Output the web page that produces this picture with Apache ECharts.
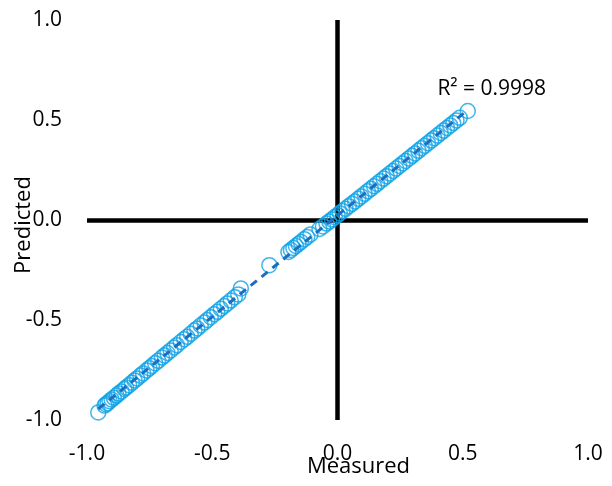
<!DOCTYPE html>
<html>
<head>
<meta charset="utf-8">
<script src="https://cdn.jsdelivr.net/npm/echarts@6/dist/echarts.min.js"></script>
<style>
html,body{margin:0;padding:0;background:#fff;}
#chart{width:612px;height:486px;}
</style>
</head>
<body>
<div id="chart"></div>
<script>
const measured = [
  -0.955, -0.93, -0.924, -0.917, -0.91, -0.902, -0.893, -0.882, -0.874, -0.862,
  -0.851, -0.844, -0.832, -0.821, -0.81, -0.8, -0.787, -0.776, -0.762, -0.751,
  -0.741, -0.728, -0.716, -0.701, -0.69, -0.679, -0.666, -0.652, -0.641, -0.626,
  -0.612, -0.6, -0.586, -0.571, -0.56, -0.546, -0.531, -0.52, -0.506, -0.492,
  -0.48, -0.466, -0.452, -0.44, -0.426, -0.41, -0.396, -0.386,
  -0.272,
  -0.196, -0.186, -0.176, -0.166, -0.156, -0.146, -0.132, -0.121, -0.108,
  -0.072, -0.058, -0.044, -0.033, -0.022, -0.011, 0.0, 0.009, 0.02,
  0.032, 0.045, 0.058, 0.07, 0.083, 0.095, 0.108, 0.121, 0.133, 0.146,
  0.158, 0.171, 0.184, 0.196, 0.209, 0.222, 0.234, 0.247, 0.26, 0.272,
  0.285, 0.298, 0.31, 0.323, 0.336, 0.348, 0.361, 0.374, 0.386, 0.399,
  0.412, 0.424, 0.437, 0.45, 0.462, 0.475, 0.488, 0.52
];
const predicted = [
  -0.962, -0.928, -0.921, -0.916, -0.906, -0.898, -0.889, -0.878, -0.868, -0.857,
  -0.845, -0.838, -0.826, -0.814, -0.802, -0.792, -0.778, -0.767, -0.752, -0.741,
  -0.73, -0.716, -0.704, -0.688, -0.677, -0.665, -0.652, -0.637, -0.626, -0.61,
  -0.596, -0.584, -0.569, -0.553, -0.542, -0.527, -0.512, -0.5, -0.486, -0.471,
  -0.459, -0.444, -0.43, -0.417, -0.403, -0.386, -0.372, -0.342,
  -0.226,
  -0.16, -0.15, -0.14, -0.13, -0.12, -0.11, -0.096, -0.085, -0.072,
  -0.045, -0.032, -0.018, -0.008, 0.003, 0.014, 0.024, 0.034, 0.045,
  0.056, 0.069, 0.081, 0.093, 0.106, 0.118, 0.131, 0.144, 0.156, 0.169,
  0.181, 0.194, 0.207, 0.219, 0.232, 0.245, 0.257, 0.27, 0.283, 0.295,
  0.308, 0.321, 0.333, 0.346, 0.359, 0.371, 0.384, 0.397, 0.409, 0.422,
  0.435, 0.447, 0.46, 0.473, 0.485, 0.498, 0.511, 0.545
];
const xTicks = [-1.0, -0.5, 0.0, 0.5, 1.0];
const yTicks = [-1.0, -0.5, 0.0, 0.5, 1.0];
const r2Label = 'R² = 0.9998';
const xTitle = 'Measured';
const yTitle = 'Predicted';

// least-squares fit of the measured/predicted pairs (trendline)
const n = measured.length;
let sx = 0, sy = 0, sxx = 0, sxy = 0;
for (let i = 0; i < n; i++) { sx += measured[i]; sy += predicted[i]; sxx += measured[i]*measured[i]; sxy += measured[i]*predicted[i]; }
const slope = (n*sxy - sx*sy) / (n*sxx - sx*sx);
const icept = (sy - slope*sx) / n;
const xmin = Math.min(...measured), xmax = Math.max(...measured);
const trend = [[xmin, slope*xmin + icept], [xmax, slope*xmax + icept]];

const pts = measured.map((m, i) => [m, predicted[i]]);
const FONT = '"Open Sans", "Noto Sans", sans-serif';

const chart = echarts.init(document.getElementById('chart'), null, {renderer: 'canvas'});
chart.setOption({
  animation: false,
  backgroundColor: '#ffffff',
  grid: {left: 87, top: 20, width: 501, height: 400, containLabel: false, outerBoundsMode: 'none'},
  xAxis: {
    type: 'value', min: xTicks[0], max: xTicks[xTicks.length-1], interval: 0.5,
    axisLine: {show: false, onZero: false}, axisTick: {show: false}, splitLine: {show: false},
    axisLabel: {margin: 24, fontSize: 21, color: '#000', fontFamily: FONT, formatter: v => v.toFixed(1)},
    name: xTitle, nameLocation: 'middle', nameGap: 36, nameMoveOverlap: false,
    nameTextStyle: {fontSize: 22, color: '#000', fontFamily: FONT, padding: [0, 0, 0, 42]}
  },
  yAxis: {
    type: 'value', min: yTicks[0], max: yTicks[yTicks.length-1], interval: 0.5,
    axisLine: {show: false, onZero: false}, axisTick: {show: false}, splitLine: {show: false},
    axisLabel: {margin: 25, fontSize: 21, color: '#000', fontFamily: FONT, formatter: v => v.toFixed(1)},
    name: yTitle, nameLocation: 'middle', nameGap: 52, nameRotate: 90, nameMoveOverlap: false,
    nameTextStyle: {fontSize: 22, color: '#000', fontFamily: FONT, padding: [0, 10, 0, 0]}
  },
  series: [
    {
      type: 'scatter', data: pts, symbol: 'circle', symbolSize: 15,
      itemStyle: {color: 'rgba(0,0,0,0)', borderColor: '#0FA2E6', borderWidth: 1.5},
      z: 3,
      markLine: {
        silent: true, symbol: 'none', animation: false,
        label: {show: false},
        lineStyle: {color: '#000', width: 4.5, type: 'solid'},
        data: [{xAxis: 0}, {yAxis: 0}],
        z: 1
      }
    },
    {
      type: 'line', data: trend, showSymbol: false, symbol: 'none',
      lineStyle: {color: '#1E6EC0', width: 3, type: [8, 6]},
      z: 4,
      markPoint: {
        symbol: 'circle', symbolSize: 0,
        label: {show: true, formatter: r2Label, fontSize: 21, color: '#000', fontFamily: FONT, position: 'top', offset: [24, -5]},
        data: [{coord: trend[1]}]
      }
    }
  ]
});
</script>
</body>
</html>
